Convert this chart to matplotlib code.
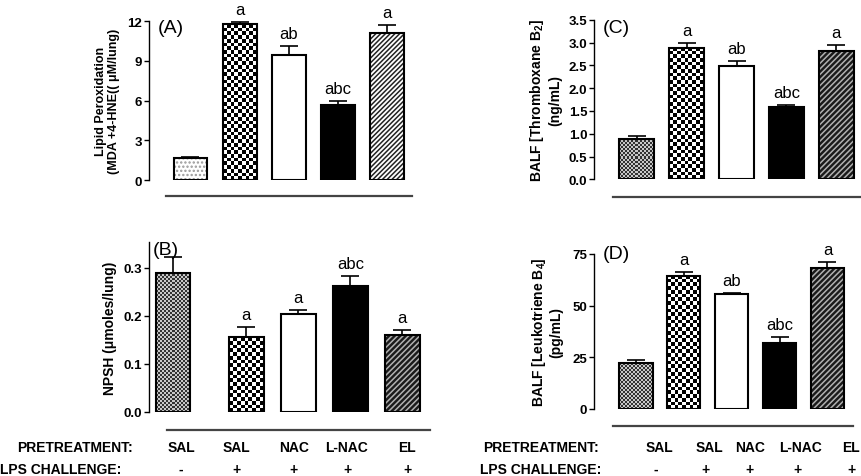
import matplotlib
matplotlib.use('Agg')
import matplotlib.pyplot as plt
import numpy as np
from matplotlib.colors import ListedColormap
from matplotlib.lines import Line2D

plt.rcParams['font.family'] = ['Liberation Sans', 'DejaVu Sans']
plt.rcParams['mathtext.fontset'] = 'custom'
plt.rcParams['mathtext.rm'] = 'Liberation Sans:bold'
plt.rcParams['mathtext.bf'] = 'Liberation Sans:bold'
plt.rcParams['hatch.linewidth'] = 1.1

# data
pretreatment = ["SAL", "SAL", "NAC", "L-NAC", "EL"]
lps_challenge = ["-", "+", "+", "+", "+"]

lipid = [1.68, 11.77, 9.46, 5.66, 11.07]
lipid_err = [0.07, 0.18, 0.64, 0.32, 0.65]
lipid_letters = ["", "a", "ab", "abc", "a"]

npsh = [0.290, 0.155, 0.203, 0.261, 0.159]
npsh_err = [0.032, 0.022, 0.009, 0.022, 0.012]
npsh_letters = ["", "a", "a", "abc", "a"]

txb2 = [0.89, 2.89, 2.48, 1.585, 2.82]
txb2_err = [0.05, 0.11, 0.12, 0.045, 0.125]
txb2_letters = ["", "a", "ab", "abc", "a"]

ltb4 = [22.3, 64.5, 55.5, 31.7, 68.1]
ltb4_err = [1.2, 1.9, 0.7, 2.9, 3.2]
ltb4_letters = ["", "a", "ab", "abc", "a"]

W, H = 861, 477
fig = plt.figure(figsize=(W / 100, H / 100), dpi=100)


def fx(px):
    return px / W


def fy(py):
    return 1 - py / H


def checker(ax, rect, cell, c1, c2):
    x0, y0 = rect.get_x(), rect.get_y()
    w, h = rect.get_width(), rect.get_height()
    p0 = ax.transData.transform((x0, y0))
    p1 = ax.transData.transform((x0 + w, y0 + h))
    nx = max(1, int(round((p1[0] - p0[0]) / cell)))
    ny = max(1, int(round((p1[1] - p0[1]) / cell)))
    arr = np.add.outer(np.arange(ny), np.arange(nx)) % 2
    im = ax.imshow(arr, extent=(x0, x0 + w, y0, y0 + h), origin='lower',
                   cmap=ListedColormap([c1, c2]), interpolation='nearest',
                   aspect='auto', zorder=1)
    im.set_clip_path(rect)


def panel(box, xlim, ylim, yticks, fmt, pos, width, vals, errs, letters,
          tag, tag_xy, ylabel, ylabel_x, ylabel_size, first_style, last_light):
    l, r, t, b = box
    ax = fig.add_axes([fx(l), fy(b), fx(r - l), (b - t) / H])
    ax.set_xlim(*xlim)
    ax.set_ylim(*ylim)
    for s in ['top', 'right', 'bottom']:
        ax.spines[s].set_visible(False)
    ax.spines['left'].set_linewidth(1.0)
    ax.set_xticks([])
    ax.set_yticks(yticks)
    ax.set_yticklabels([fmt.format(v) for v in yticks], fontsize=9.5, fontweight='bold')
    ax.tick_params(axis='y', length=3.5, width=1.0, pad=1.5)

    for i, (x, v) in enumerate(zip(pos, vals)):
        if i == 0:
            if first_style == 'dots':
                ax.bar(x, v, width, color='white', edgecolor='#999999', hatch='....',
                       linewidth=0, zorder=1)
            else:
                rect = ax.bar(x, v, width, color='none', linewidth=0)[0]
                checker(ax, rect, 2.0, '#333333', '#c8c8c8')
            ax.bar(x, v, width, color='none', edgecolor='black', linewidth=1.5, zorder=3)
        elif i == 1:
            rect = ax.bar(x, v, width, color='none', linewidth=0)[0]
            checker(ax, rect, 3.7, 'black', 'white')
            ax.bar(x, v, width, color='none', edgecolor='black', linewidth=1.5, zorder=3)
        elif i == 2:
            ax.bar(x, v, width, color='white', edgecolor='black', linewidth=1.5, zorder=3)
        elif i == 3:
            ax.bar(x, v, width, color='black', edgecolor='black', linewidth=1.5, zorder=3)
        else:
            if last_light:
                ax.bar(x, v, width, color='white', edgecolor='#222222', hatch='///////',
                       linewidth=0, zorder=1)
            else:
                ax.bar(x, v, width, color='#1a1a1a', edgecolor='#b0b0b0', hatch='//////',
                       linewidth=0, zorder=1)
            ax.bar(x, v, width, color='none', edgecolor='black', linewidth=1.5, zorder=3)

    ax.errorbar(pos, vals, yerr=[np.zeros(len(vals)), errs], fmt='none', ecolor='black',
                elinewidth=1.2, capsize=6.5, capthick=1.2, zorder=4, clip_on=False)
    ax.set_xlim(*xlim)
    ax.set_ylim(*ylim)

    for x, v, e, s in zip(pos, vals, errs, letters):
        if s:
            ax.annotate(s, (x, v + e), xytext=(0, 3.5), textcoords='offset points',
                        ha='center', va='bottom', fontsize=12, annotation_clip=False)

    ax.text(tag_xy[0], tag_xy[1], tag, transform=ax.transAxes, fontsize=14,
            ha='left', va='center')
    ax.set_ylabel(ylabel, fontsize=ylabel_size, fontweight='bold', linespacing=1.15)
    ax.yaxis.set_label_coords(ylabel_x, 0.5)
    return ax


idx = np.arange(5)

panel((149, 412, 22, 181), (-0.843, 4.50), (0, 12), [0, 3, 6, 9, 12], '{:d}',
      idx, 0.69, lipid, lipid_err, lipid_letters, '(A)', (0.034, 0.962),
      'Lipid Peroxidation\n(MDA +4-HNE(( \u03bcM/lung)', -0.110, 9, 'dots', True)

panel((149, 430, 243.3, 412.7), (-0.87, 4.53), (0, 0.353), [0.0, 0.1, 0.2, 0.3],
      '{:.1f}', [-0.41, 1, 2, 3, 4], 0.667, npsh, npsh_err, npsh_letters, '(B)',
      (0.014, 0.957), 'NPSH (\u03bcmoles/lung)', -0.114, 10, 'check', False)

panel((594.3, 861, 20.7, 180.3), (-0.85, 4.495), (0, 3.5),
      [0.0, 0.5, 1.0, 1.5, 2.0, 2.5, 3.0, 3.5], '{:.1f}', idx, 0.69,
      txb2, txb2_err, txb2_letters, '(C)', (0.031, 0.954),
      'BALF [Thromboxane B$_{\\mathbf{2}}$]\n(ng/mL)', -0.122, 10, 'check', False)

panel((594.3, 861, 255, 409.7), (-0.87, 4.70), (0, 75), [0, 25, 50, 75], '{:d}',
      idx, 0.695, ltb4, ltb4_err, ltb4_letters, '(D)', (0.031, 1.0),
      'BALF [Leukotriene B$_{\\mathbf{4}}$]\n(pg/mL)', -0.116, 10, 'check', False)

# underline below each panel
underlines = [(166, 412, 197), (166.7, 430, 430.7), (612.7, 860, 198), (612.7, 852.7, 426.7)]
for x0, x1, y in underlines:
    fig.add_artist(Line2D([fx(x0), fx(x1)], [fy(y), fy(y)], color='#444444', linewidth=1.6))

# group labels
label_kw = dict(fontsize=10, fontweight='bold', va='center')
fig.text(fx(16.7), fy(448.3), 'PRETREATMENT:', ha='left', **label_kw)
fig.text(fx(0), fy(470), 'LPS CHALLENGE:', ha='left', **label_kw)
fig.text(fx(483), fy(448.3), 'PRETREATMENT:', ha='left', **label_kw)
fig.text(fx(480), fy(470), 'LPS CHALLENGE:', ha='left', **label_kw)

left_cols = [181, 236, 294, 347, 407]
right_pre_cols = [659, 709, 750, 800, 851]
right_lps_cols = [656, 705, 750, 798, 852]
for x, s in zip(left_cols, pretreatment):
    fig.text(fx(x), fy(448.3), s, ha='center', **label_kw)
for x, s in zip(left_cols, lps_challenge):
    fig.text(fx(x), fy(470), s, ha='center', **label_kw)
for x, s in zip(right_pre_cols, pretreatment):
    fig.text(fx(x), fy(448.3), s, ha='center', **label_kw)
for x, s in zip(right_lps_cols, lps_challenge):
    fig.text(fx(x), fy(470), s, ha='center', **label_kw)

fig.savefig('out.png', dpi=100)
